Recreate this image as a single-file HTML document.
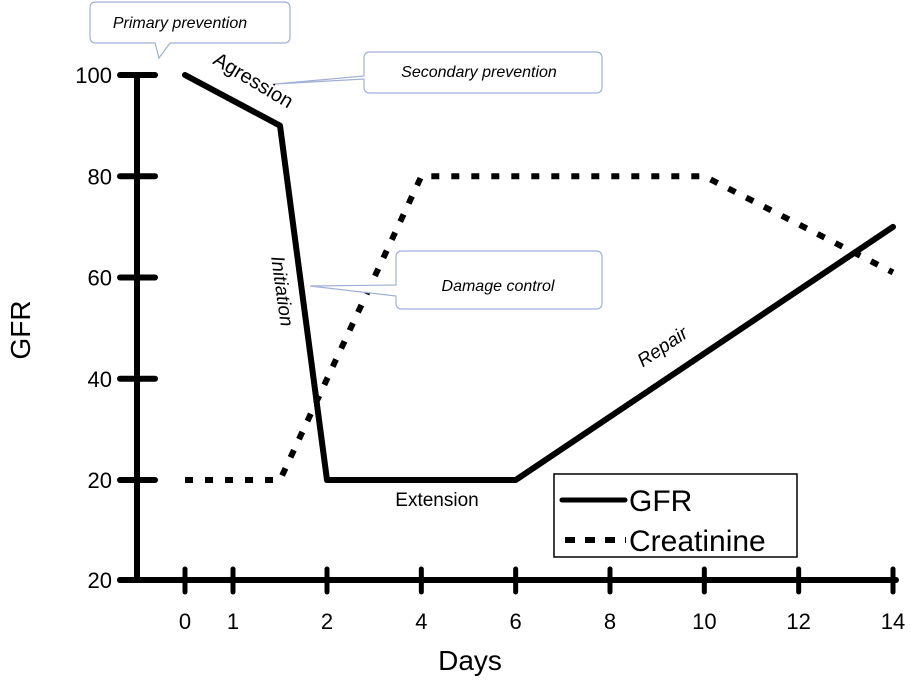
<!DOCTYPE html>
<html><head><meta charset="utf-8"><style>
html,body{margin:0;padding:0;background:#fff;}
svg{display:block;font-family:"Liberation Sans",sans-serif;}
</style></head><body>
<svg id="chart" width="911" height="680" viewBox="0 0 911 680">
<g id="axes"></g>
<g id="series"></g>
<g>
  <path d="M96,2 H284 Q290,2 290,8 V37 Q290,43 284,43 H170 L159,58 L155,43 H96 Q90,43 90,37 V8 Q90,2 96,2 Z" fill="#fff" stroke="#9fb0d6" stroke-width="1.2"/>
  <text x="180" y="28" font-size="16" font-style="italic" text-anchor="middle">Primary prevention</text>
  <path d="M370,52 H596 Q602,52 602,58 V87 Q602,93 596,93 H370 Q364,93 364,87 V79 L275,84 L364,76 V58 Q364,52 370,52 Z" fill="#fff" stroke="#9fb0d6" stroke-width="1.2"/>
  <text x="479" y="77" font-size="16" font-style="italic" text-anchor="middle">Secondary prevention</text>
  <path d="M402,251 H596 Q602,251 602,257 V303 Q602,309 596,309 H402 Q396,309 396,303 V296 L310,286 L396,285 V257 Q396,251 402,251 Z" fill="#fff" stroke="#9fb0d6" stroke-width="1.2"/>
  <text x="498" y="291" font-size="16" font-style="italic" text-anchor="middle">Damage control</text>
  <text font-size="20" transform="translate(250,86) rotate(31)" text-anchor="middle">Agression</text>
  <text font-size="19" font-style="italic" transform="translate(276,292) rotate(82)" text-anchor="middle">Initiation</text>
  <text x="437" y="506" font-size="19" text-anchor="middle">Extension</text>
  <text font-size="19" font-style="italic" transform="translate(666,352) rotate(-34)" text-anchor="middle">Repair</text>
</g>
<g>
  <rect x="554" y="474" width="243" height="83" fill="#fff" stroke="#000" stroke-width="1.5"/>
  <line x1="562" y1="500" x2="625" y2="500" stroke="#000" stroke-width="5" stroke-linecap="round"/>
  <text x="629" y="511" font-size="30">GFR</text>
  <line x1="565" y1="540" x2="626" y2="540" stroke="#000" stroke-width="6" stroke-dasharray="10 10"/>
  <text x="629" y="551" font-size="30">Creatinine</text>
</g>
<text font-size="28" transform="translate(30,330) rotate(-90)" text-anchor="middle">GFR</text>
<text x="470" y="670" font-size="28" text-anchor="middle">Days</text>
</svg>
<script>
const xTicks = [0, 1, 2, 4, 6, 8, 10, 12, 14];
const yTickValues = [20, 20, 40, 60, 80, 100];
const yTickLabels = ["20", "20", "40", "60", "80", "100"];
const gfrDays = [0, 1.5, 2, 6, 14];
const gfrValues = [100, 90, 20, 20, 70];
const creatDays = [0, 1.5, 4, 10, 14];
const creatValues = [20, 20, 80, 80, 61];

function yScale(v){ return 480 - (v - 20) * (405 / 80); }
function xScale(d){
  if (d <= 1) return 185 + d * 48;
  if (d <= 2) return 233 + (d - 1) * 94;
  return 327 + (d - 2) * (566 / 12);
}
const NS = "http://www.w3.org/2000/svg";
const axes = document.getElementById('axes');
const series = document.getElementById('series');
function mk(tag, attrs, parent){
  const e = document.createElementNS(NS, tag);
  for (const k in attrs) e.setAttribute(k, attrs[k]);
  parent.appendChild(e); return e;
}
const yAxis = mk('line', {x1:137,y1:75,x2:137,y2:580,stroke:'#000','stroke-width':6}, axes);


const xAxis = mk('line', {x1:120,y1:580,x2:896,y2:580,stroke:'#000','stroke-width':6,'stroke-linecap':'round'}, axes);


yTickValues.forEach((v, i) => {
  const y = i === 0 ? 580 : yScale(v);
  const t = mk('line', {x1:120,y1:y,x2:155,y2:y,stroke:'#000','stroke-width':6,'stroke-linecap':'round'}, axes);
  
  
  const l = mk('text', {x:112,y:y+8,'font-size':22,'text-anchor':'end'}, axes);
  l.textContent = yTickLabels[i];
  
  
});
xTicks.forEach(d => {
  const x = xScale(d);
  const t = mk('line', {x1:x,y1:569,x2:x,y2:592,stroke:'#000','stroke-width':5,'stroke-linecap':'round'}, axes);
  
  
  const l = mk('text', {x:x,y:629,'font-size':22,'text-anchor':'middle'}, axes);
  l.textContent = String(d);
  
  
});
const cPts = creatDays.map((d,i) => xScale(d) + ',' + yScale(creatValues[i])).join(' ');
const cLine = mk('polyline', {points:cPts,fill:'none',stroke:'#000','stroke-width':6,'stroke-dasharray':'8 12'}, series);


const gPts = gfrDays.map((d,i) => xScale(d) + ',' + yScale(gfrValues[i])).join(' ');
const gLine = mk('polyline', {points:gPts,fill:'none',stroke:'#000','stroke-width':6,'stroke-linejoin':'round','stroke-linecap':'round'}, series);


</script>
</body></html>
